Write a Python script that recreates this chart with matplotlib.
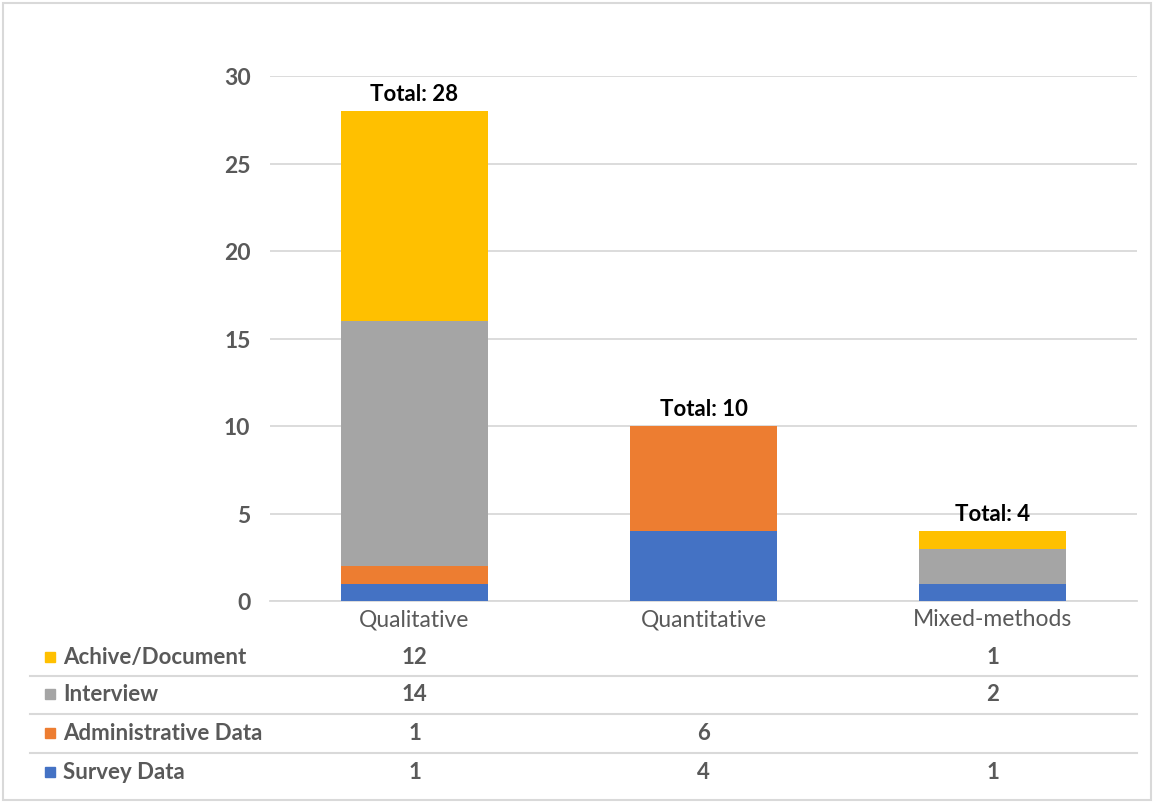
import matplotlib.pyplot as plt
import matplotlib.transforms as mtransforms
from matplotlib.patches import Rectangle
import numpy as np

plt.rcParams['font.family'] = ['Lato', 'DejaVu Sans']

# data
categories = ['Qualitative', 'Quantitative', 'Mixed-methods']
series_names = ['Survey Data', 'Administrative Data', 'Interview', 'Achive/Document']
survey = [1, 4, 1]
administrative = [1, 6, 0]
interview = [14, 0, 2]
archive = [12, 0, 1]
series_values = [survey, administrative, interview, archive]
colors = ['#4472C4', '#ED7D31', '#A5A5A5', '#FFC000']

W, H = 1155, 804
fig = plt.figure(figsize=(W / 100, H / 100), dpi=100)
fig.patches.append(Rectangle((3 / W, 3 / H), 1 - 7 / W, 1 - 7 / H, transform=fig.transFigure,
                             fill=False, edgecolor='#D9D9D9', linewidth=1.5))

ax = fig.add_axes([270 / W, (H - 602) / H, (1137 - 270) / W, (602 - 77) / H])
x = np.arange(len(categories))
bottom = np.zeros(len(categories))
for name, vals, c in zip(series_names, series_values, colors):
    ax.bar(x, vals, width=0.51, bottom=bottom, color=c, zorder=3)
    bottom += np.array(vals)

totals = bottom
for xi, t in zip(x, totals):
    ax.annotate(f'Total: {int(t)}', (xi, t), xytext=(0, 5), textcoords='offset points',
                ha='center', va='bottom', fontsize=16, fontweight='bold', color='black')

ax.set_xlim(-0.5, len(categories) - 0.5)
ax.set_ylim(0, 30)
ax.set_yticks(range(0, 31, 5))
ax.grid(axis='y', color='#D9D9D9', linewidth=1.3, zorder=0)
for s in ['top', 'right', 'left']:
    ax.spines[s].set_visible(False)
ax.spines['bottom'].set_color('#D9D9D9')
ax.spines['bottom'].set_linewidth(1.3)
ax.tick_params(axis='y', length=0, pad=14, labelsize=16.5, labelcolor='#595959')
for lbl in ax.get_yticklabels():
    lbl.set_fontweight('bold')
ax.set_xticks([])

# data table below the axes: x in data coords, y in figure pixels
trans = mtransforms.blended_transform_factory(ax.transData, fig.transFigure)
def fy(py):
    return (H - py) / H

for xi, cat in zip(x, categories):
    ax.text(xi, fy(620), cat, transform=trans, ha='center', va='center',
            fontsize=16.5, color='#595959', clip_on=False)

row_y = [658, 695, 734, 773]
for ry, name, vals, c in zip(row_y, series_names[::-1], series_values[::-1], colors[::-1]):
    fig.patches.append(Rectangle((45 / W, fy(ry + 5)), 10 / W, 10 / H,
                                 transform=fig.transFigure, color=c))
    fig.text(63 / W, fy(ry), name, ha='left', va='center', fontsize=16,
             fontweight='bold', color='#595959')
    for xi, v in zip(x, vals):
        if v:
            ax.text(xi, fy(ry), str(v), transform=trans, ha='center', va='center',
                    fontsize=16, fontweight='bold', color='#595959', clip_on=False)

for ly in [677, 715, 754]:
    fig.add_artist(plt.Line2D([30 / W, 1137 / W], [fy(ly), fy(ly)],
                              transform=fig.transFigure, color='#D9D9D9', linewidth=1.5))

fig.savefig('out.png', dpi=100)
